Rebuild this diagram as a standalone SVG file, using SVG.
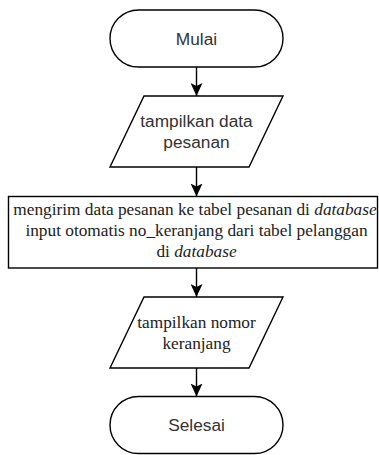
<svg xmlns="http://www.w3.org/2000/svg" width="379" height="455" viewBox="0 0 379 455">
<style>
.shape{fill:#fff;stroke:#000;stroke-width:1.4}
.sans{font-family:"Liberation Sans",Arial,sans-serif;font-size:17.3px;fill:#333;text-anchor:middle}
.serif{font-family:"Liberation Serif","Times New Roman",serif;font-size:17.3px;fill:#222;text-anchor:middle}
.edge{stroke:#000;stroke-width:1.4;fill:none}
</style>
<defs>
<marker id="arr" viewBox="0 0 14 12" refX="13" refY="6" markerWidth="14" markerHeight="12" markerUnits="userSpaceOnUse" orient="auto">
<path d="M0,0 L13,6 L0,12 L3,6 Z" fill="#000"/>
</marker>
</defs>
<rect width="379" height="455" fill="#fff"/>
<g id="connectors">
<line class="edge" x1="196.5" y1="67" x2="196.5" y2="96" marker-end="url(#arr)"/>
<line class="edge" x1="196.5" y1="167" x2="196.5" y2="196.5" marker-end="url(#arr)"/>
<line class="edge" x1="196.5" y1="268" x2="196.5" y2="297" marker-end="url(#arr)"/>
<line class="edge" x1="196.5" y1="368" x2="196.5" y2="396.5" marker-end="url(#arr)"/>
</g>
<g id="mulai">
<rect class="shape" x="110" y="10" width="173" height="57" rx="28.5" ry="28.5"/>
<text class="sans" x="196.5" y="44.7">Mulai</text>
</g>
<g id="tampil-data">
<polygon class="shape" points="144,96 283,96 249,167 110,167"/>
<text class="sans" x="196.5" y="127.3">tampilkan data</text>
<text class="sans" x="196.5" y="148">pesanan</text>
</g>
<g id="kirim-data">
<rect class="shape" x="8.5" y="196.5" width="369" height="71.5"/>
<text class="serif" x="195" y="214.5">mengirim data pesanan ke tabel pesanan di <tspan font-style="italic">database</tspan></text>
<text class="serif" x="196.5" y="235.5">input otomatis no_keranjang dari tabel pelanggan</text>
<text class="serif" x="196.5" y="256.5">di <tspan font-style="italic">database</tspan></text>
</g>
<g id="tampil-nomor">
<polygon class="shape" points="144,297 283,297 249,368 110,368"/>
<text class="serif" x="196.5" y="328.3">tampilkan nomor</text>
<text class="serif" x="196.5" y="349">keranjang</text>
</g>
<g id="selesai">
<rect class="shape" x="110" y="396.5" width="173" height="57" rx="28.5" ry="28.5"/>
<text class="sans" x="196.5" y="431.2">Selesai</text>
</g>
</svg>
